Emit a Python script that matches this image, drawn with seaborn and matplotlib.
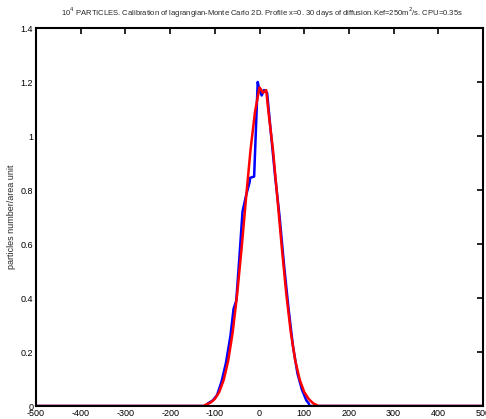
import matplotlib
matplotlib.use("Agg")
import matplotlib.pyplot as plt
import seaborn as sns
import pandas as pd

sns.set_style("white")
plt.rcParams['font.family'] = ['Liberation Sans', 'DejaVu Sans']

# Blue: Lagrangian Monte Carlo profile
blue_x = [-500, -120, -115, -105, -95, -85, -75, -65, -58, -52, -45, -38, -30, -22, -21, -12,
          -4, 0, 5, 10, 17, 25, 35, 45, 55, 65, 75, 85, 95, 105, 110, 112, 500]
blue_y = [0.0, 0.0, 0.01, 0.02, 0.04, 0.09, 0.16, 0.26, 0.36, 0.39, 0.55, 0.72, 0.78, 0.83, 0.845, 0.85,
          1.20, 1.17, 1.15, 1.17, 1.16, 1.02, 0.85, 0.70, 0.52, 0.36, 0.22, 0.12, 0.06, 0.02, 0.01, 0.0, 0.0]

# Red: analytical profile
red_x = [-500, -125, -120, -110, -100, -90, -80, -70, -60, -50, -40, -30, -20, -10, 0,
         8, 15, 20, 30, 40, 50, 60, 70, 80, 90, 100, 110, 120, 132, 500]
red_y = [0.0, 0.0, 0.005, 0.012, 0.026, 0.052, 0.097, 0.168, 0.273, 0.414, 0.585, 0.772, 0.95, 1.09, 1.18,
         1.16, 1.17, 1.09, 0.95, 0.77, 0.585, 0.414, 0.273, 0.168, 0.097, 0.052, 0.026, 0.01, 0.0, 0.0]

x_ticks = [-500, -400, -300, -200, -100, 0, 100, 200, 300, 400, 500]
y_ticks = [0, 0.2, 0.4, 0.6, 0.8, 1, 1.2, 1.4]
y_labels = ["0", "0.2", "0.4", "0.6", "0.8", "1", "1.2", "1.4"]

title = ("10$^4$ PARTICLES. Calibration of lagrangian-Monte Carlo 2D. Profile x=0. "
         "30 days of diffusion.Kef=250m$^2$/s. CPU=0.35s")
ylabel = "particles number/area unit"

df_b = pd.DataFrame({"x": blue_x, "y": blue_y})
df_r = pd.DataFrame({"x": red_x, "y": red_y})

fig = plt.figure(figsize=(4.86, 4.19), dpi=100)
ax = fig.add_axes([36/486, 13/419, 447/486, 378/419])

sns.lineplot(data=df_b, x="x", y="y", sort=False, color="#0000ff", lw=1.8, ax=ax, estimator=None)
sns.lineplot(data=df_r, x="x", y="y", sort=False, color="#ff0000", lw=1.8, ax=ax, estimator=None)

ax.set_xlim(-500, 500)
ax.set_ylim(0, 1.4)
ax.set_xticks(x_ticks)
ax.set_xticklabels([str(t) for t in x_ticks])
ax.set_yticks(y_ticks)
ax.set_yticklabels(y_labels)
ax.tick_params(direction="in", length=4, width=1.2, top=True, right=True,
               labelsize=6.5, pad=2, colors="black")
for s in ax.spines.values():
    s.set_linewidth(1.5)
    s.set_color("black")
ax.set_xlabel("")
ax.set_ylabel(ylabel, fontsize=6.5, labelpad=3)
ax.set_title(title, fontsize=5.5, pad=9, x=0.505)

fig.savefig("out.png", dpi=100)
